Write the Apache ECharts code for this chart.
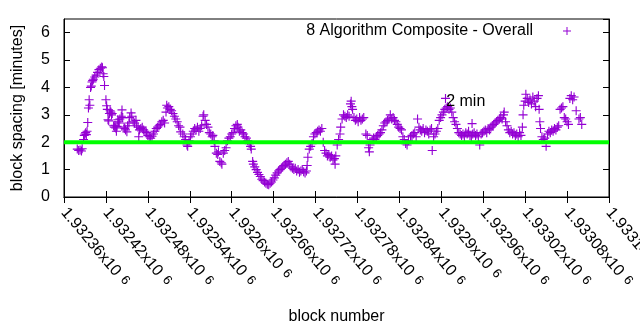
<!DOCTYPE html>
<html>
<head>
<meta charset="utf-8">
<script src="https://cdn.jsdelivr.net/npm/echarts@6/dist/echarts.min.js"></script>
<style>html,body{margin:0;padding:0;background:#fff}#c{width:640px;height:330px}</style>
</head>
<body>
<div id="c"></div>
<script>
const seriesName = '8 Algorithm Composite - Overall';
const xTickLabels = ['1.93236','1.93242','1.93248','1.93254','1.9326','1.93266','1.93272','1.93278','1.93284','1.9329','1.93296','1.93302','1.93308','1.93314'];
const yTickLabels = ['0','1','2','3','4','5','6'];
const xMin = 1932360, xMax = 1933140, xStep = 60;
const yMin = 0, yMax = 6.5, yStep = 1;
const targetSpacing = 2;
const targetLabel = '2 min';
const targetLabelPos = [1932907, 3.47];

const blockNumber = [
1932379,1932381,1932383,1932385,1932386,1932388,1932389,1932390,1932391,1932392,
1932393,1932394,1932395,1932396,1932397,1932398,1932399,1932400,1932401,1932402,
1932404,1932406,1932408,1932410,1932412,1932414,1932415,1932416,1932417,1932418,
1932420,1932421,1932422,1932423,1932424,1932425,1932426,1932427,1932428,1932429,
1932431,1932432,1932433,1932434,1932435,1932436,1932437,1932438,1932439,1932440,
1932442,1932443,1932444,1932446,1932447,1932448,1932450,1932451,1932453,1932454,
1932456,1932457,1932459,1932461,1932463,1932464,1932466,1932467,1932468,1932470,
1932472,1932474,1932476,1932478,1932480,1932482,1932484,1932486,1932488,1932490,
1932492,1932494,1932496,1932498,1932500,1932502,1932504,1932506,1932507,1932508,
1932510,1932512,1932514,1932516,1932518,1932520,1932522,1932524,1932526,1932527,
1932530,1932532,1932534,1932536,1932537,1932539,1932541,1932543,1932545,1932547,
1932549,1932551,1932553,1932555,1932557,1932559,1932560,1932562,1932564,1932566,
1932568,1932570,1932572,1932573,1932575,1932576,1932578,1932580,1932581,1932583,
1932585,1932586,1932588,1932590,1932592,1932594,1932596,1932598,1932600,1932602,
1932604,1932606,1932608,1932609,1932611,1932613,1932615,1932617,1932619,1932621,
1932623,1932625,1932627,1932628,1932630,1932631,1932633,1932635,1932637,1932639,
1932641,1932643,1932645,1932647,1932649,1932651,1932653,1932655,1932657,1932659,
1932661,1932663,1932665,1932667,1932669,1932671,1932673,1932675,1932677,1932679,
1932681,1932683,1932685,1932687,1932689,1932691,1932693,1932695,1932697,1932699,
1932701,1932703,1932705,1932707,1932708,1932709,1932711,1932713,1932715,1932717,
1932719,1932721,1932723,1932725,1932727,1932729,1932731,1932733,1932735,1932737,
1932739,1932741,1932743,1932745,1932747,1932748,1932749,1932751,1932753,1932755,
1932756,1932758,1932760,1932762,1932764,1932766,1932768,1932770,1932771,1932772,
1932773,1932775,1932777,1932779,1932781,1932783,1932785,1932787,1932789,1932792,
1932794,1932796,1932797,1932798,1932801,1932803,1932805,1932807,1932809,1932811,
1932813,1932815,1932817,1932819,1932821,1932823,1932825,1932827,1932829,1932831,
1932833,1932835,1932837,1932839,1932841,1932843,1932845,1932847,1932849,1932851,
1932853,1932856,1932858,1932860,1932862,1932864,1932866,1932868,1932870,1932872,
1932874,1932876,1932878,1932880,1932882,1932884,1932886,1932887,1932889,1932891,
1932893,1932895,1932897,1932899,1932901,1932903,1932905,1932906,1932907,1932909,
1932911,1932913,1932915,1932917,1932919,1932921,1932923,1932925,1932927,1932929,
1932931,1932933,1932935,1932937,1932939,1932941,1932943,1932944,1932945,1932947,
1932949,1932951,1932953,1932955,1932957,1932959,1932961,1932963,1932965,1932967,
1932969,1932971,1932973,1932975,1932977,1932979,1932981,1932983,1932985,1932987,
1932989,1932990,1932992,1932994,1932996,1932998,1933000,1933002,1933004,1933006,
1933008,1933010,1933012,1933014,1933016,1933017,1933018,1933020,1933021,1933023,
1933025,1933027,1933029,1933031,1933033,1933035,1933037,1933039,1933040,1933041,
1933042,1933044,1933046,1933048,1933050,1933052,1933054,1933056,1933058,1933060,
1933062,1933064,1933066,1933068,1933070,1933072,1933074,1933076,1933078,1933080,
1933082,1933084,1933086,1933088,1933090,1933093,1933097,1933099,1933101
];
const spacingMinutes = [
1.75,1.70,1.72,1.68,1.76,2.10,2.25,2.30,2.35,2.28,
2.40,2.72,3.25,3.55,3.35,4.00,4.05,4.20,4.25,4.30,
4.38,4.45,4.55,4.65,4.70,4.75,4.72,4.50,4.40,4.07,
3.55,3.33,3.20,2.82,2.78,3.05,3.15,3.10,3.00,3.05,
2.60,2.55,2.62,2.52,2.40,2.58,2.82,2.75,2.70,2.85,
2.95,3.18,2.90,2.55,2.50,2.45,2.38,2.60,2.70,2.90,
3.07,2.95,2.75,2.70,2.80,2.60,2.55,2.20,2.45,2.50,
2.55,2.45,2.40,2.35,2.25,2.20,2.15,2.22,2.30,2.40,
2.50,2.55,2.60,2.65,2.75,2.80,2.70,3.10,3.35,3.25,
3.30,3.20,3.15,3.05,2.95,2.85,2.75,2.60,2.55,2.38,
2.30,2.20,2.10,1.90,1.85,2.05,2.20,2.30,2.40,2.50,
2.45,2.55,2.40,2.50,2.60,2.95,3.00,2.80,2.65,2.55,
2.35,2.30,2.20,2.25,2.05,1.85,1.60,1.55,1.65,1.30,
1.25,1.20,1.60,1.70,1.80,2.05,2.15,2.20,2.30,2.35,
2.50,2.60,2.65,2.55,2.40,2.45,2.35,2.30,2.20,2.15,
2.05,1.95,1.85,1.75,1.30,1.20,1.10,1.00,0.90,0.82,
0.75,0.65,0.60,0.55,0.50,0.47,0.45,0.50,0.55,0.62,
0.70,0.80,0.88,0.95,1.00,1.05,1.10,1.15,1.20,1.25,
1.30,1.20,1.10,1.05,1.00,1.05,0.95,1.00,0.90,0.95,
1.00,0.92,0.88,0.95,1.15,1.45,1.75,1.85,1.95,2.20,
2.30,2.35,2.40,2.45,2.40,2.50,2.00,1.70,1.60,1.50,
1.55,1.45,1.50,1.35,1.40,1.20,1.50,1.90,2.10,2.30,
2.55,2.85,3.00,2.95,2.90,3.00,2.95,3.40,3.50,3.30,
3.20,2.90,2.80,2.85,2.75,2.90,2.80,2.85,2.90,2.30,
2.25,1.80,1.65,1.90,2.10,2.15,2.10,2.20,2.25,2.30,
2.35,2.45,2.60,2.70,2.75,2.80,2.85,3.00,2.85,2.90,
2.80,2.75,2.65,2.55,2.50,2.45,2.20,2.10,1.95,1.90,
2.05,2.20,2.25,2.30,2.35,2.20,2.85,2.55,2.45,2.40,
2.50,2.35,2.45,2.40,2.30,2.45,2.50,1.70,2.20,2.30,
2.40,2.50,2.80,2.90,3.00,3.10,3.20,3.60,3.25,3.30,
3.20,3.25,3.10,2.90,2.75,2.65,2.50,2.35,2.30,2.25,
2.30,2.20,2.35,2.30,2.40,2.25,2.20,2.68,2.30,2.35,
2.25,2.30,2.20,1.90,2.30,2.35,2.40,2.45,2.35,2.50,
2.45,2.55,2.60,2.65,2.70,2.75,2.80,2.85,2.90,2.85,
3.00,3.10,2.75,2.60,2.45,2.35,2.40,2.30,2.35,2.25,
2.30,2.20,2.35,2.25,2.55,3.00,3.35,3.50,3.75,3.60,
3.45,3.55,3.40,3.65,3.50,3.30,3.60,3.70,3.20,2.75,
2.50,2.20,2.10,2.15,1.85,2.30,2.40,2.35,2.45,2.40,
2.50,2.45,2.55,2.60,3.20,3.25,3.30,2.90,2.85,2.75,
2.65,3.60,3.70,3.55,3.65,3.15,2.85,2.90,2.65
];

const FONT = 'Liberation Sans';
const PURPLE = '#9400d3';
const PLUS = 'path://M7,0H9V7H16V9H9V16H7V9H0V7H7Z';

const chart = echarts.init(document.getElementById('c'), null, {renderer: 'canvas'});
const points = blockNumber.map((b, i) => [b, spacingMinutes[i]]);

const baseX = {
  type: 'value', min: xMin, max: xMax, interval: xStep,
  axisLine: {show: true, lineStyle: {color: '#000', width: 1}},
  axisTick: {show: true, inside: true, length: 6, lineStyle: {color: '#000'}},
  splitLine: {show: false}
};
const baseY = {
  type: 'value', min: yMin, max: yMax, interval: yStep,
  axisLine: {show: true, lineStyle: {color: '#000', width: 1}},
  axisTick: {show: true, inside: true, length: 6, lineStyle: {color: '#000'}},
  splitLine: {show: false}
};

chart.setOption({
  animation: false,
  backgroundColor: '#fff',
  textStyle: {fontFamily: FONT},
  grid: {left: 64, right: 31, top: 19, bottom: 133, show: true, borderColor: '#000', borderWidth: 1,
         containLabel: false, outerBoundsMode: 'none'},
  legend: {
    data: [{name: seriesName, icon: PLUS}],
    right: 69, top: 23, padding: 0, align: 'right',
    itemWidth: 8, itemHeight: 8,
    textStyle: {fontSize: 16, color: '#000', fontFamily: FONT, padding: [0, 25, 0, 0]},
    selectedMode: false
  },
  xAxis: [
    Object.assign({}, baseX, {
      position: 'bottom',
      name: 'block number', nameLocation: 'middle', nameGap: 112,
      nameTextStyle: {fontSize: 16, color: '#000', fontFamily: FONT},
      axisLabel: {
        show: true, rotate: -50, margin: 13, color: '#000',
        formatter: (v, i) => {
          const idx = Math.round((v - xMin) / xStep);
          const t = xTickLabels[idx];
          return t === undefined ? '' : '{m|' + t + 'x10}{e|6}';
        },
        rich: {
          m: {fontSize: 16, fontFamily: FONT, color: '#000'},
          e: {fontSize: 13, fontFamily: FONT, color: '#000', padding: [0, 0, 3, 6]}
        }
      }
    }),
    Object.assign({}, baseX, {position: 'top', axisLabel: {show: false}})
  ],
  yAxis: [
    Object.assign({}, baseY, {
      position: 'left',
      name: 'block spacing [minutes]', nameLocation: 'middle', nameGap: 38,
      nameTextStyle: {fontSize: 16, color: '#000', fontFamily: FONT},
      axisLabel: {
        show: true, margin: 14, fontSize: 16, color: '#000', showMaxLabel: false,
        formatter: v => {
          const idx = Math.round((v - yMin) / yStep);
          return (Math.abs(v - idx * yStep - yMin) < 1e-9 && yTickLabels[idx] !== undefined) ? yTickLabels[idx] : '';
        }
      }
    }),
    Object.assign({}, baseY, {position: 'right', axisLabel: {show: false}})
  ],
  series: [
    {
      name: seriesName, type: 'scatter', xAxisIndex: 0, yAxisIndex: 0,
      symbol: PLUS, symbolSize: 9,
      itemStyle: {color: PURPLE, opacity: 1},
      data: points, silent: true, z: 2
    },
    {
      name: 'target', type: 'line', xAxisIndex: 0, yAxisIndex: 0,
      data: [[xMin, targetSpacing], [xMax, targetSpacing]],
      symbol: 'none', lineStyle: {color: '#00ff00', width: 4}, silent: true, z: 3,
      markPoint: {
        symbol: 'circle', symbolSize: 0, silent: true,
        label: {show: true, position: 'right', distance: 0, formatter: targetLabel,
                fontSize: 16, color: '#000', fontFamily: FONT},
        data: [{coord: targetLabelPos}]
      }
    }
  ]
});
</script>
</body>
</html>
